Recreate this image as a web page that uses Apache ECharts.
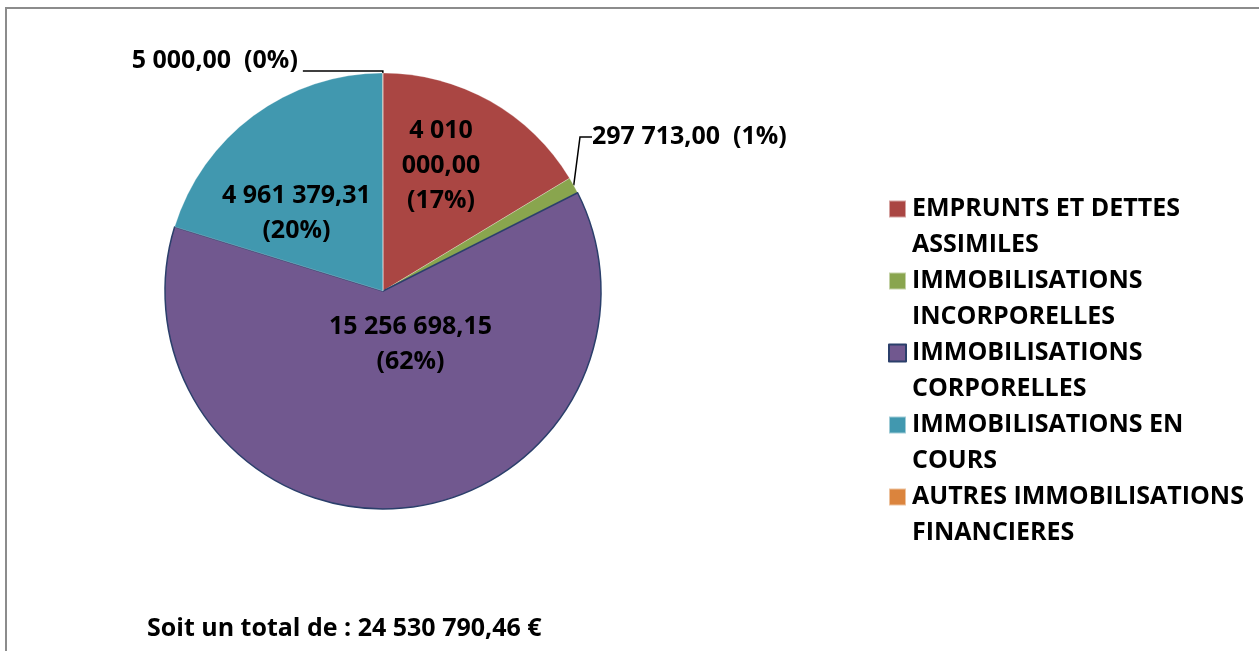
<!DOCTYPE html>
<html>
<head>
<meta charset="utf-8">
<script src="https://cdn.jsdelivr.net/npm/echarts@6/dist/echarts.min.js"></script>
<style>
  html, body { margin: 0; padding: 0; background: #fff; }
  #chart { width: 1259px; height: 651px; }
</style>
</head>
<body>
<div id="chart"></div>
<script>
  // postes et montants (en euros)
  var categories = [
    'EMPRUNTS ET DETTES ASSIMILES',
    'IMMOBILISATIONS INCORPORELLES',
    'IMMOBILISATIONS CORPORELLES',
    'IMMOBILISATIONS EN COURS',
    'AUTRES IMMOBILISATIONS FINANCIERES'
  ]
  var values = [4010000.00, 297713.00, 15256698.15, 4961379.31, 5000.00]
  var pctLabels = ['17%', '1%', '62%', '20%', '0%']   // pourcentages affichés
  var colors = ['#AA4643', '#89A54E', '#71588F', '#4198AF', '#DB843D']

  // coupure des libellés de légende
  var legendLines = {
    'EMPRUNTS ET DETTES ASSIMILES': 'EMPRUNTS ET DETTES\nASSIMILES',
    'IMMOBILISATIONS INCORPORELLES': 'IMMOBILISATIONS\nINCORPORELLES',
    'IMMOBILISATIONS CORPORELLES': 'IMMOBILISATIONS\nCORPORELLES',
    'IMMOBILISATIONS EN COURS': 'IMMOBILISATIONS EN\nCOURS',
    'AUTRES IMMOBILISATIONS FINANCIERES': 'AUTRES IMMOBILISATIONS\nFINANCIERES'
  }

  function fmt(v) {
    var parts = v.toFixed(2).split('.')
    return parts[0].replace(/\B(?=(\d{3})+(?!\d))/g, ' ') + ',' + parts[1]
  }

  var font = 'Open Sans'
  var total = 0
  values.forEach(function (v) { total += v })

  var data = []
  categories.forEach(function (name, i) {
    var item = { name: name, value: values[i], itemStyle: { color: colors[i] } }
    if (i === 2) {
      item.itemStyle.borderColor = '#2B3F6B'
      item.itemStyle.borderWidth = 1.5
      item.label = { position: 'inside', offset: [18, -58] }
    } else if (i === 0) {
      item.label = { position: 'inside', offset: [3, -28], formatter: '4 010\n000,00\n(' + pctLabels[0] + ')' }
    } else if (i === 3) {
      item.label = { position: 'inside', offset: [-20, 12] }
    } else if (i === 1) {
      item.label = { position: 'outside', formatter: fmt(values[1]) + '  (' + pctLabels[1] + ')' }
      item.labelLine = { show: true, length: 20, length2: 12 }
    } else {
      item.label = { position: 'outside', formatter: fmt(values[4]) + '  (' + pctLabels[4] + ')' }
      item.labelLine = { show: true, length: 2, length2: 80 }
    }
    data.push(item)
  })

  var chart = echarts.init(document.getElementById('chart'))
  chart.setOption({
    backgroundColor: '#fff',
    animation: false,
    graphic: [{
      type: 'rect',
      shape: { x: 6, y: 8, width: 1300, height: 700 },
      style: { fill: 'none', stroke: '#8c8c8c', lineWidth: 2 }
    }],
    title: {
      text: 'Soit un total de : ' + fmt(total) + ' €',
      left: 147,
      top: 616,
      padding: 0,
      textStyle: { fontFamily: font, fontWeight: 'bold', fontSize: 25, color: '#000' }
    },
    legend: {
      orient: 'vertical',
      left: 888,
      top: 155,
      padding: 0,
      itemWidth: 17,
      itemHeight: 17,
      itemGap: -36,
      icon: 'rect',
      // ligne vide en tête pour aligner le carré sur la première ligne
      formatter: function (name) { return ' \n' + legendLines[name] },
      textStyle: {
        fontFamily: font, fontWeight: 'bold', fontSize: 25, color: '#000',
        lineHeight: 36, padding: [0, 0, 0, 1]
      }
    },
    series: [{
      type: 'pie',
      center: [383, 291],
      radius: 218,
      startAngle: 90,
      clockwise: true,
      avoidLabelOverlap: false,
      itemStyle: { borderColor: 'rgba(255,255,255,0.5)', borderWidth: 0.5 },
      label: {
        fontFamily: font, fontWeight: 'bold', fontSize: 25, color: '#000', lineHeight: 35,
        formatter: function (p) { return fmt(p.value) + '\n(' + pctLabels[p.dataIndex] + ')' }
      },
      labelLine: { lineStyle: { color: '#000', width: 1.5 }, length2: 12 },
      labelLayout: function (p) {
        if (p.dataIndex === 1) return { x: 592, y: 137, align: 'left', verticalAlign: 'middle' }
        if (p.dataIndex === 4) return { dy: -10 }
      },
      data: data
    }]
  })
</script>
</body>
</html>
